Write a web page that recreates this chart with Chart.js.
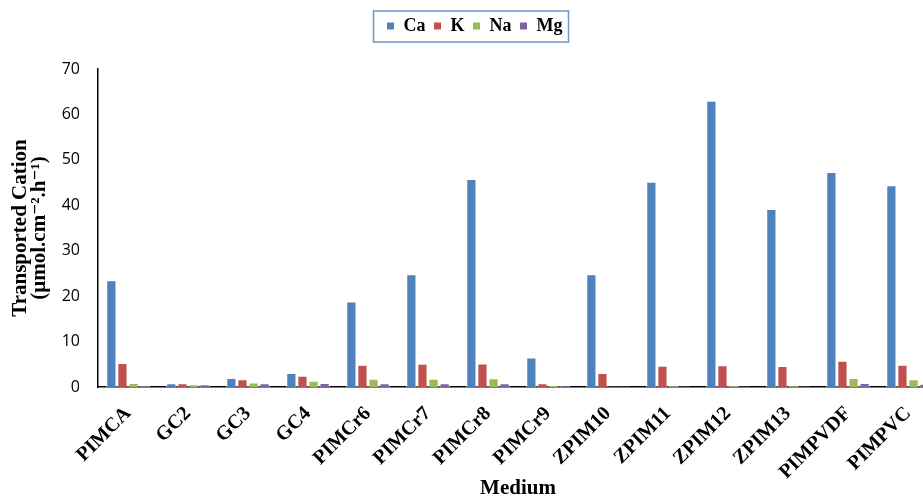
<!DOCTYPE html>
<html>
<head>
<meta charset="utf-8">
<script src="https://cdn.jsdelivr.net/npm/chart.js@4/dist/chart.umd.min.js"></script>
<style>
  html, body { margin: 0; padding: 0; background: #fff; overflow: hidden; }
  #wrap { width: 942px; height: 501px; }
</style>
</head>
<body>
<div id="wrap"><canvas id="chart"></canvas></div>
<script>
const categories = ['PIMCA', 'GC2', 'GC3', 'GC4', 'PIMCr6', 'PIMCr7', 'PIMCr8', 'PIMCr9',
  'ZPIM10', 'ZPIM11', 'ZPIM12', 'ZPIM13', 'PIMPVDF', 'PIMPVC'];
const caValues = [23.5, 0.8, 2.0, 3.1, 18.8, 24.8, 45.8, 6.5, 24.8, 45.2, 63.0, 39.2, 47.3, 44.4];
const kValues  = [5.3, 0.8, 1.7, 2.5, 4.9, 5.1, 5.2, 0.8, 3.1, 4.7, 4.8, 4.6, 5.8, 4.9];
const naValues = [0.9, 0.6, 1.0, 1.4, 1.8, 1.8, 1.9, 0.4, 0.1, 0.2, 0.2, 0.2, 2.0, 1.7];
const mgValues = [0.4, 0.6, 0.8, 0.9, 0.8, 0.8, 0.8, 0.3, 0.1, 0.1, 0.1, 0.1, 0.9, 0.7];
const yTicks = [0, 10, 20, 30, 40, 50, 60, 70];

const serif = "'Liberation Serif', 'DejaVu Serif', serif";

// thin frame around the legend, plus extra room below it
const legendFrame = {
  id: 'legendFrame',
  beforeInit(chart) {
    const fit = chart.legend.fit;
    chart.legend.fit = function () {
      fit.call(this);
      this.height += 24;
    };
  },
  afterDraw(chart) {
    const boxes = chart.legend.legendHitBoxes;
    if (!boxes || !boxes.length) return;
    const left = Math.min(...boxes.map(b => b.left)) - 13;
    const right = Math.max(...boxes.map(b => b.left + b.width)) + 6;
    const top = Math.min(...boxes.map(b => b.top)) - 6;
    const bottom = Math.max(...boxes.map(b => b.top + b.height)) + 7;
    const ctx = chart.ctx;
    ctx.save();
    ctx.strokeStyle = '#6f95c8';
    ctx.lineWidth = 1.5;
    ctx.strokeRect(left, top, right - left, bottom - top);
    ctx.restore();
  }
};

const mkSet = (label, data, color) => ({
  label, data,
  backgroundColor: color,
  borderColor: '#ffffff',
  borderWidth: 1,
  categoryPercentage: 0.74,
  barPercentage: 0.92
});

new Chart(document.getElementById('chart'), {
  type: 'bar',
  data: {
    labels: categories,
    datasets: [
      mkSet('Ca', caValues, '#4f81bd'),
      mkSet('K', kValues, '#c0504d'),
      mkSet('Na', naValues, '#9bbb59'),
      mkSet('Mg', mgValues, '#8064a2')
    ]
  },
  options: {
    responsive: true,
    maintainAspectRatio: false,
    animation: false,
    layout: { padding: { top: 9, right: 4, left: 11, bottom: 0 } },
    plugins: {
      legend: {
        position: 'top',
        labels: {
          boxWidth: 8,
          boxHeight: 8,
          padding: 8,
          color: '#000',
          font: { family: serif, size: 18, weight: 'bold' }
        }
      },
      tooltip: { enabled: false }
    },
    scales: {
      x: {
        afterFit: s => { s.height = 114; s.paddingLeft = 0; s.paddingRight = 0; },
        grid: { display: false, drawTicks: false },
        border: { color: '#000', width: 1.5 },
        ticks: {
          color: '#000',
          maxRotation: 45,
          minRotation: 45,
          padding: 15,
          font: { family: serif, size: 20, weight: 'bold' }
        },
        title: {
          display: true,
          text: 'Medium',
          color: '#000',
          padding: { top: 0, bottom: 0 },
          font: { family: serif, size: 21, weight: 'bold' }
        }
      },
      y: {
        min: 0,
        max: 70,
        afterBuildTicks: axis => { axis.ticks = yTicks.map(v => ({ value: v })); },
        afterFit: s => { s.width = 87; },
        grid: { display: false, drawTicks: false },
        border: { color: '#000', width: 1.5 },
        ticks: {
          color: '#000',
          padding: 18,
          font: { family: "'Open Sans', sans-serif", size: 16 }
        },
        title: {
          display: true,
          text: ['Transported Cation', '(µmol.cm⁻².h⁻¹)'],
          color: '#000',
          padding: { top: 0, bottom: 13 },
          font: { family: serif, size: 21, weight: 'bold', lineHeight: 0.9 }
        }
      }
    }
  },
  plugins: [legendFrame]
});
</script>
</body>
</html>
